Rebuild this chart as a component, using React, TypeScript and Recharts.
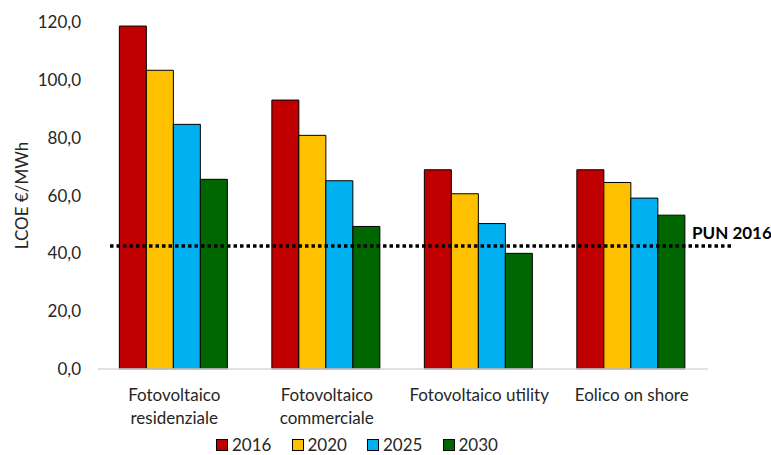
import { BarChart, Bar, XAxis, YAxis, ReferenceLine } from "recharts";

const categories = ["Fotovoltaico\nresidenziale", "Fotovoltaico\ncommerciale", "Fotovoltaico utility", "Eolico on shore"];
const years = ["2016", "2020", "2025", "2030"];
const lcoe2016 = [118.6, 93.0, 68.9, 68.9];
const lcoe2020 = [103.3, 80.8, 60.6, 64.5];
const lcoe2025 = [84.6, 65.1, 50.3, 59.1];
const lcoe2030 = [65.6, 49.3, 40.0, 53.2];
const yTicks = [0, 20, 40, 60, 80, 100, 120];
const pun2016 = 42.5;

const COLORS = ["#C00000", "#FFC000", "#00B0F0", "#006600"];
const FONT = "Lato, 'Open Sans', sans-serif";
const TEXT = "#262626";
const FS = 17;

const data = categories.map((name, i) => ({
  name,
  y2016: lcoe2016[i],
  y2020: lcoe2020[i],
  y2025: lcoe2025[i],
  y2030: lcoe2030[i],
}));

const fmt = (v: number) => v.toFixed(1).replace(".", ",");

function CategoryTick({ x, y, payload }: any) {
  const lines = String(payload.value).split("\n");
  return (
    <text x={x} y={y + 24} textAnchor="middle" fill={TEXT} fontSize={FS} fontFamily={FONT}>
      {lines.map((l, i) => (
        <tspan key={i} x={x} dy={i === 0 ? 0 : 23}>{l}</tspan>
      ))}
    </text>
  );
}

// dotted PUN line, running a bit past the plot on the right, with its label
function PunLine({ x1, x2, y1 }: any) {
  return (
    <g>
      <line x1={x1 + 12} x2={x2 + 24} y1={y1} y2={y1} stroke="#000" strokeWidth={3.5} strokeDasharray="3.5 3" />
      <text x={x2 - 16} y={y1 - 7} fill="#000" fontSize={FS} fontWeight={700} fontFamily={FONT}>PUN 2016</text>
    </g>
  );
}

// legend row under the axis labels
function YearLegend() {
  return (
    <div style={{ position: "absolute", left: 216, top: 435, display: "flex",
      fontFamily: FONT, fontSize: FS, lineHeight: "20px", color: TEXT }}>
      {years.map((y, i) => (
        <div key={y} style={{ display: "flex", alignItems: "center", width: 75.5 }}>
          <span style={{ width: 10, height: 10, background: COLORS[i], border: "1px solid #000", marginRight: 4 }} />
          <span>{y}</span>
        </div>
      ))}
    </div>
  );
}

export default function App() {
  return (
    <div style={{ position: "absolute", left: 0, top: 0, width: 771, height: 455, background: "#fff" }}>
      <BarChart width={771} height={455} data={data} margin={{ top: 22, right: 63, left: 0, bottom: 26 }}
        barCategoryGap="14%" barGap={0}>
        <XAxis dataKey="name" axisLine={{ stroke: "#D9D9D9", strokeWidth: 1.5 }} tickLine={false}
          height={60} tick={<CategoryTick />} interval={0} />
        <YAxis width={98} domain={[0, 120]} ticks={yTicks} axisLine={false} tickLine={false}
          tickMargin={11} tickFormatter={fmt}
          tick={{ fill: TEXT, fontSize: FS, fontFamily: FONT }}
          label={{ value: "LCOE €/MWh", angle: -90, position: "insideLeft", offset: 22,
            style: { textAnchor: "middle", fill: TEXT, fontSize: FS, fontFamily: FONT } }} />
        <Bar dataKey="y2016" name="2016" fill={COLORS[0]} stroke="#000" strokeWidth={1} isAnimationActive={false} />
        <Bar dataKey="y2020" name="2020" fill={COLORS[1]} stroke="#000" strokeWidth={1} isAnimationActive={false} />
        <Bar dataKey="y2025" name="2025" fill={COLORS[2]} stroke="#000" strokeWidth={1} isAnimationActive={false} />
        <Bar dataKey="y2030" name="2030" fill={COLORS[3]} stroke="#000" strokeWidth={1} isAnimationActive={false} />
        <ReferenceLine y={pun2016} shape={<PunLine />} />
      </BarChart>
      <YearLegend />
    </div>
  );
}
